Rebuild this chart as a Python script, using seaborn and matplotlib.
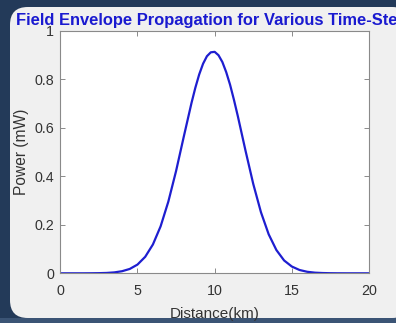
import matplotlib
matplotlib.use("Agg")
import matplotlib.pyplot as plt
import seaborn as sns
import pandas as pd
from matplotlib.patches import FancyBboxPatch, Rectangle

distance_km = [0, 0.5, 1, 1.5, 2, 2.5, 3, 3.5, 4, 4.5, 5, 5.5, 6, 6.5, 7, 7.5, 8,
               8.5, 8.75, 9, 9.25, 9.5, 9.75, 10, 10.25, 10.5, 10.75, 11, 11.25, 11.5,
               12, 12.5, 13, 13.5, 14, 14.5, 15, 15.5, 16, 16.5, 17, 17.5, 18,
               18.5, 19, 19.5, 20]
power_mw = [0, 0, 0, 0, 0.0002, 0.0006, 0.0015, 0.0037, 0.0086, 0.018, 0.036, 0.068,
            0.119, 0.194, 0.296, 0.422, 0.564,
            0.703, 0.766, 0.821, 0.865, 0.896, 0.912, 0.914, 0.900, 0.872, 0.830, 0.778,
            0.716, 0.649,
            0.506, 0.369, 0.252, 0.161, 0.096, 0.053, 0.028, 0.0136, 0.0062, 0.0026,
            0.0011, 0.0004, 0.0001, 0, 0, 0, 0]
x_ticks = [0, 5, 10, 15, 20]
y_ticks = [0, 0.2, 0.4, 0.6, 0.8, 1]
y_tick_labels = ["0", "0.2", "0.4", "0.6", "0.8", "1"]
title_text = "Field Envelope Propagation for Various Time-Steps"
x_label = "Distance(km)"
y_label = "Power (mW)"

sns.set_style("white")
plt.rcParams['font.family'] = ['Liberation Sans', 'DejaVu Sans']

W, H = 396, 323
fig = plt.figure(figsize=(W / 100, H / 100), dpi=100)
fig.patch.set_facecolor("#233a59")

# slightly lighter strip along the bottom edge
fig.patches.append(Rectangle((0, 0), 1, 5 / H, transform=fig.transFigure,
                             facecolor="#3b5475", edgecolor="none", zorder=-6))

# light panel with rounded corners
panel = FancyBboxPatch((10 / W, 5 / H), 400 / W, 311 / H,
                       boxstyle="round,pad=0,rounding_size=0.045",
                       transform=fig.transFigure, facecolor="#f0f0f0",
                       edgecolor="none", zorder=-5, mutation_aspect=W / H)
fig.patches.append(panel)

ax = fig.add_axes([60.3 / W, (H - 273.3) / H, 308.7 / W, 242.3 / H])
ax.set_zorder(2)
ax.set_facecolor("white")
df = pd.DataFrame({"distance": distance_km, "power": power_mw})
sns.lineplot(data=df, x="distance", y="power", ax=ax, color="#1e1ed0", linewidth=1.6)

ax.set_xlim(0, 20)
ax.set_ylim(0, 1)
ax.set_xticks(x_ticks)
ax.set_xticklabels([str(t) for t in x_ticks])
ax.set_yticks(y_ticks)
ax.set_yticklabels(y_tick_labels)
ax.tick_params(direction="in", length=3.5, width=0.6, color="#777777",
               labelsize=10.3, labelcolor="#333333", top=True, right=True,
               bottom=True, left=True)
ax.tick_params(axis="x", pad=8)
ax.tick_params(axis="y", pad=4.5)
for s in ax.spines.values():
    s.set_color("#8a8a8a")
    s.set_linewidth(0.8)
    s.set_visible(True)
ax.set_xlabel(x_label, fontsize=11, color="#333333", labelpad=6)
ax.set_ylabel(y_label, fontsize=11.2, color="#333333", labelpad=3.5)

fig.text(16.5 / W, 1 - 25 / H, title_text, ha="left", va="baseline",
         fontsize=11.9, fontweight="bold", color="#1a1ad0", zorder=5)

fig.savefig("out.png", dpi=100, facecolor=fig.get_facecolor())
